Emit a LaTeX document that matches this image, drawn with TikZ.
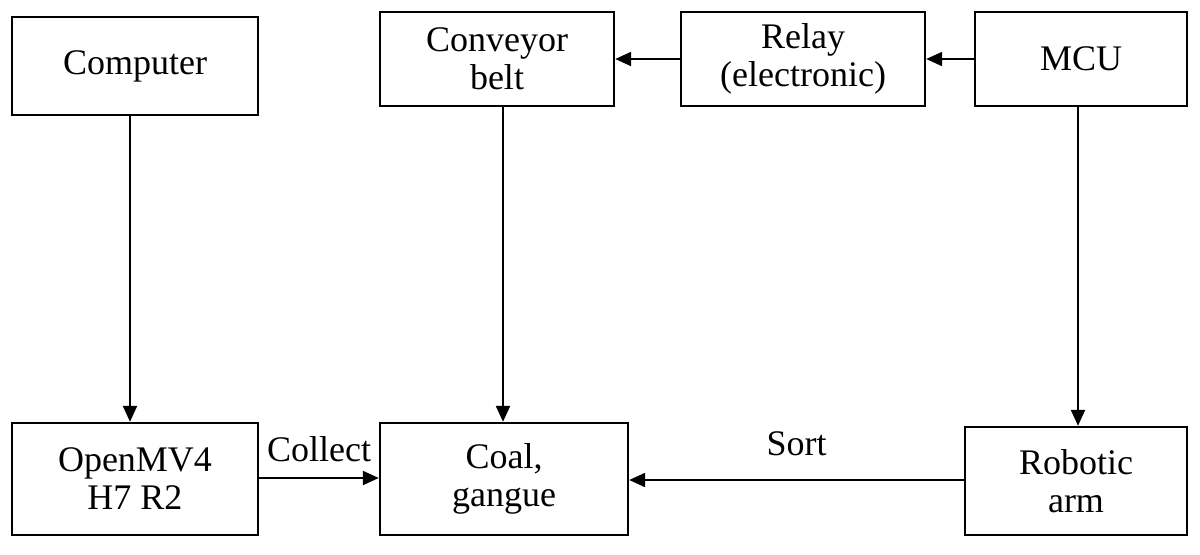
\documentclass[tikz,border=0pt]{standalone}
\usepackage{fontspec}
\setmainfont{Liberation Serif}
\usetikzlibrary{arrows.meta}
\begin{document}
\begin{tikzpicture}[x=0.5pt,y=-0.5pt,
 box/.style={draw,line width=1.2pt,align=center,inner sep=0pt,font=\fontsize{18}{19}\selectfont},
 arr/.style={-{Triangle[length=8pt,width=7pt]},line width=1.1pt},
 lab/.style={font=\fontsize{18}{19}\selectfont}]
\useasboundingbox (0,0) rectangle (1200,554);
\node[box,minimum width=123pt,minimum height=49pt] (comp) at (135,66) {Computer};
\node[box,minimum width=117pt,minimum height=47pt] (conv) at (497,59) {Conveyor\\belt};
\node[box,minimum width=122pt,minimum height=47pt] (relay) at (803,59) {Relay\\(electronic)};
\node[box,minimum width=106pt,minimum height=47pt] (mcu) at (1081,59) {MCU};
\node[box,minimum width=123pt,minimum height=56pt] (omv) at (135,479) {OpenMV4\\H7 R2};
\node[box,minimum width=124pt,minimum height=56pt] (coal) at (504,479) {Coal,\\gangue};
\node[box,minimum width=111pt,minimum height=54pt] (arm) at (1076,481) {Robotic\\arm};
\draw[arr] (mcu) -- (relay);
\draw[arr] (relay) -- (conv);
\draw[arr] (comp.south -| 130,0) -- (omv.north -| 130,0);
\draw[arr] (conv.south -| 503,0) -- (coal.north -| 503,0);
\draw[arr] (mcu.south -| 1078,0) -- (arm.north -| 1078,0);
\draw[arr] (omv.east |- 0,478) -- (coal.west |- 0,478) node[lab,midway,above=4pt] {Collect};
\draw[arr] (arm.west |- 0,480) -- (coal.east |- 0,480) node[lab,midway,above=8pt] {Sort};
\end{tikzpicture}
\end{document}
